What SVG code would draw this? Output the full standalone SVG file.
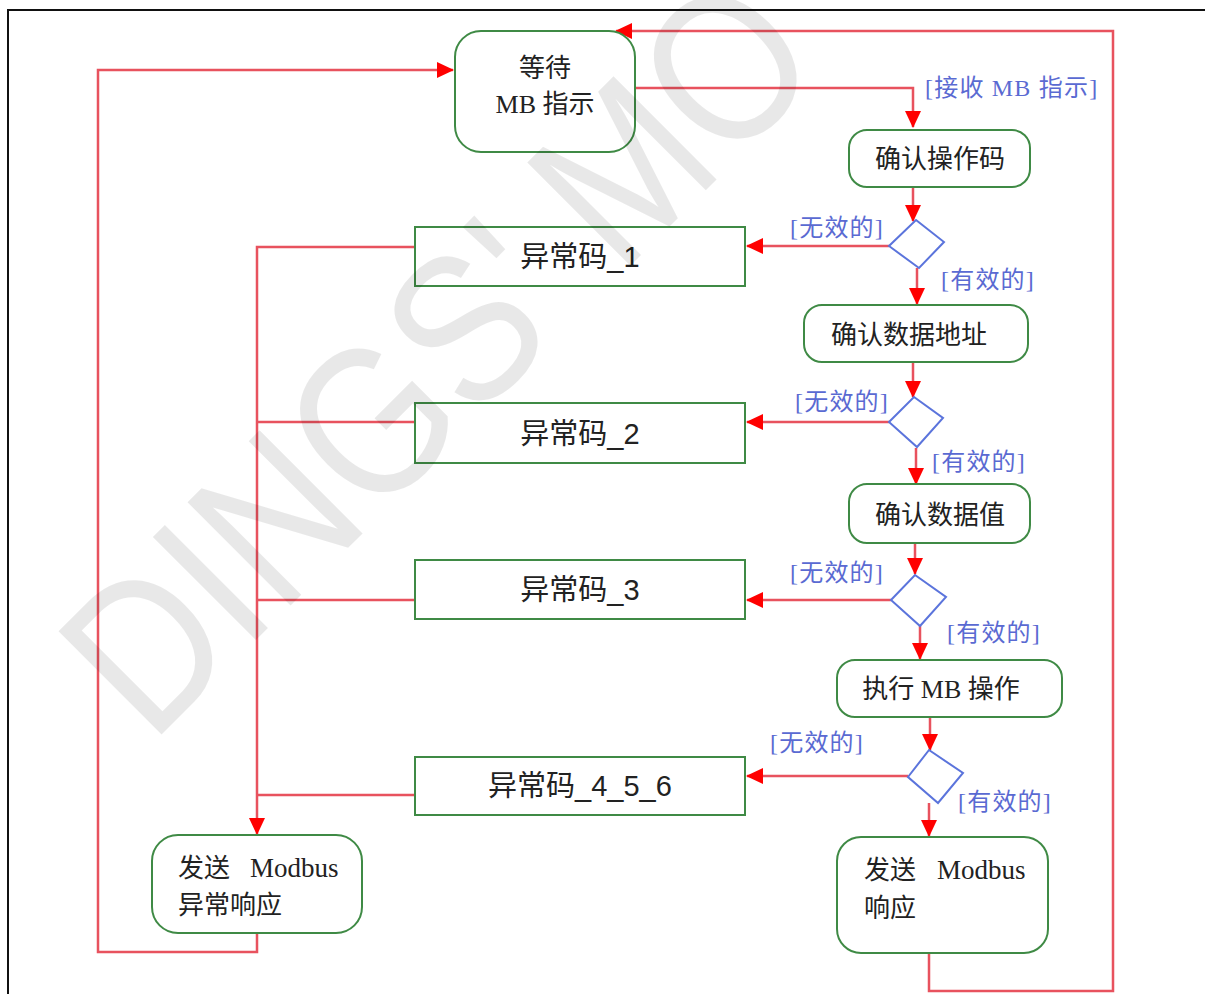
<svg xmlns="http://www.w3.org/2000/svg" width="1205" height="994" viewBox="0 0 1205 994">
<style>
.bg{fill:#ffffff}
.frame{fill:none;stroke:#111;stroke-width:2}
.act{fill:#ffffff;stroke:#3f8a45;stroke-width:2}
.dia{fill:#ffffff;stroke:#5b74dc;stroke-width:2}
.ln{fill:none;stroke:#e8525e;stroke-width:2.5}
.t{font-family:"Liberation Serif","Noto Sans CJK SC",serif;font-size:26px;fill:#222}
.mb{font-family:"Liberation Serif",serif;font-size:27px;fill:#222}
.ts{font-family:"Liberation Sans","Noto Sans CJK SC",sans-serif;font-size:29px;fill:#222}
.lab{font-family:"Liberation Serif","Noto Sans CJK SC",serif;font-size:24px;letter-spacing:1.2px;fill:#5a6ad2}
.wm{font-family:"Liberation Sans",sans-serif;font-size:212px;fill:#000000;fill-opacity:0.09}
</style>
<defs>
<marker id="ah" markerWidth="18" markerHeight="18" refX="16" refY="8" orient="auto" markerUnits="userSpaceOnUse">
<path d="M0,0 L17,8 L0,16 Z" fill="#ff0000"/>
</marker>
</defs>
<rect class="bg" x="0" y="0" width="1205" height="994"/>
<path class="frame" d="M8,994 L8,10 L1205,10"/>

<g id="connectors">
<path class="ln" d="M635,88 L913,88 L913,127" marker-end="url(#ah)"/>
<path class="ln" d="M913,187 L913,221" marker-end="url(#ah)"/>
<path class="ln" d="M889,246 L747,246" marker-end="url(#ah)"/>
<path class="ln" d="M917,268 L917,304" marker-end="url(#ah)"/>
<path class="ln" d="M913,362 L913,397" marker-end="url(#ah)"/>
<path class="ln" d="M889,422 L747,422" marker-end="url(#ah)"/>
<path class="ln" d="M916,448 L916,484" marker-end="url(#ah)"/>
<path class="ln" d="M915,543 L915,574" marker-end="url(#ah)"/>
<path class="ln" d="M891,600 L747,600" marker-end="url(#ah)"/>
<path class="ln" d="M920,626 L920,659" marker-end="url(#ah)"/>
<path class="ln" d="M930,717 L930,750" marker-end="url(#ah)"/>
<path class="ln" d="M908,776 L747,776" marker-end="url(#ah)"/>
<path class="ln" d="M929,803 L929,836" marker-end="url(#ah)"/>
<path class="ln" d="M929,953 L929,991 L1113,991 L1113,31 L616,31" marker-end="url(#ah)"/>
<path class="ln" d="M415,247 L257,247 L257,834" marker-end="url(#ah)"/>
<path class="ln" d="M415,422 L257,422"/>
<path class="ln" d="M415,600 L257,600"/>
<path class="ln" d="M415,795 L257,795"/>
<path class="ln" d="M257,933 L257,952 L98,952 L98,70 L453,70" marker-end="url(#ah)"/>
<text class="lab" x="925" y="96">[接收 MB 指示]</text>
<text class="lab" x="790" y="236">[无效的]</text>
<text class="lab" x="941" y="288">[有效的]</text>
<text class="lab" x="795" y="410">[无效的]</text>
<text class="lab" x="932" y="470">[有效的]</text>
<text class="lab" x="790" y="581">[无效的]</text>
<text class="lab" x="947" y="641">[有效的]</text>
<text class="lab" x="770" y="751">[无效的]</text>
<text class="lab" x="958" y="810">[有效的]</text>
</g>

<g id="wait">
<rect class="act" x="455" y="31" width="180" height="121" rx="26"/>
<text class="t" x="545" y="77" text-anchor="middle">等待</text>
<text class="t" x="545" y="113" text-anchor="middle">MB 指示</text>
</g>
<g id="check-opcode">
<rect class="act" x="849" y="130" width="181" height="57" rx="18"/>
<text class="t" x="940" y="168" text-anchor="middle">确认操作码</text>
</g>
<g id="d1"><path class="dia" d="M916,220 L944,242 L919,268 L889,246 Z"/></g>
<g id="check-addr">
<rect class="act" x="804" y="305" width="224" height="57" rx="18"/>
<text class="t" x="909" y="344" text-anchor="middle">确认数据地址</text>
</g>
<g id="d2"><path class="dia" d="M914,397 L943,418 L917,447 L889,422 Z"/></g>
<g id="check-value">
<rect class="act" x="849" y="484" width="181" height="59" rx="18"/>
<text class="t" x="940" y="524" text-anchor="middle">确认数据值</text>
</g>
<g id="d3"><path class="dia" d="M915,575 L946,597 L920,626 L891,600 Z"/></g>
<g id="exec">
<rect class="act" x="837" y="660" width="225" height="57" rx="18"/>
<text class="t" x="941" y="698" text-anchor="middle">执行 MB 操作</text>
</g>
<g id="d4"><path class="dia" d="M929,750 L963,773 L938,803 L908,777 Z"/></g>
<g id="send-resp">
<rect class="act" x="837" y="837" width="211" height="116" rx="24"/>
<text class="t" x="864" y="879">发送</text>
<text class="mb" x="937" y="879">Modbus</text>
<text class="t" x="864" y="917">响应</text>
</g>
<g id="exc1">
<rect class="act" x="415" y="227" width="330" height="59"/>
<text class="ts" x="580" y="267" text-anchor="middle">异常码_1</text>
</g>
<g id="exc2">
<rect class="act" x="415" y="403" width="330" height="60"/>
<text class="ts" x="580" y="444" text-anchor="middle">异常码_2</text>
</g>
<g id="exc3">
<rect class="act" x="415" y="560" width="330" height="59"/>
<text class="ts" x="580" y="600" text-anchor="middle">异常码_3</text>
</g>
<g id="exc456">
<rect class="act" x="415" y="757" width="330" height="58"/>
<text class="ts" x="580" y="796" text-anchor="middle">异常码_4_5_6</text>
</g>
<g id="send-exc">
<rect class="act" x="152" y="835" width="210" height="98" rx="26"/>
<text class="t" x="178" y="877">发送</text>
<text class="mb" x="250" y="877">Modbus</text>
<text class="t" x="178" y="914">异常响应</text>
</g>

<text class="wm" transform="translate(151,745) rotate(-45) scale(0.86,1)">DINGS' MO</text>
</svg>
